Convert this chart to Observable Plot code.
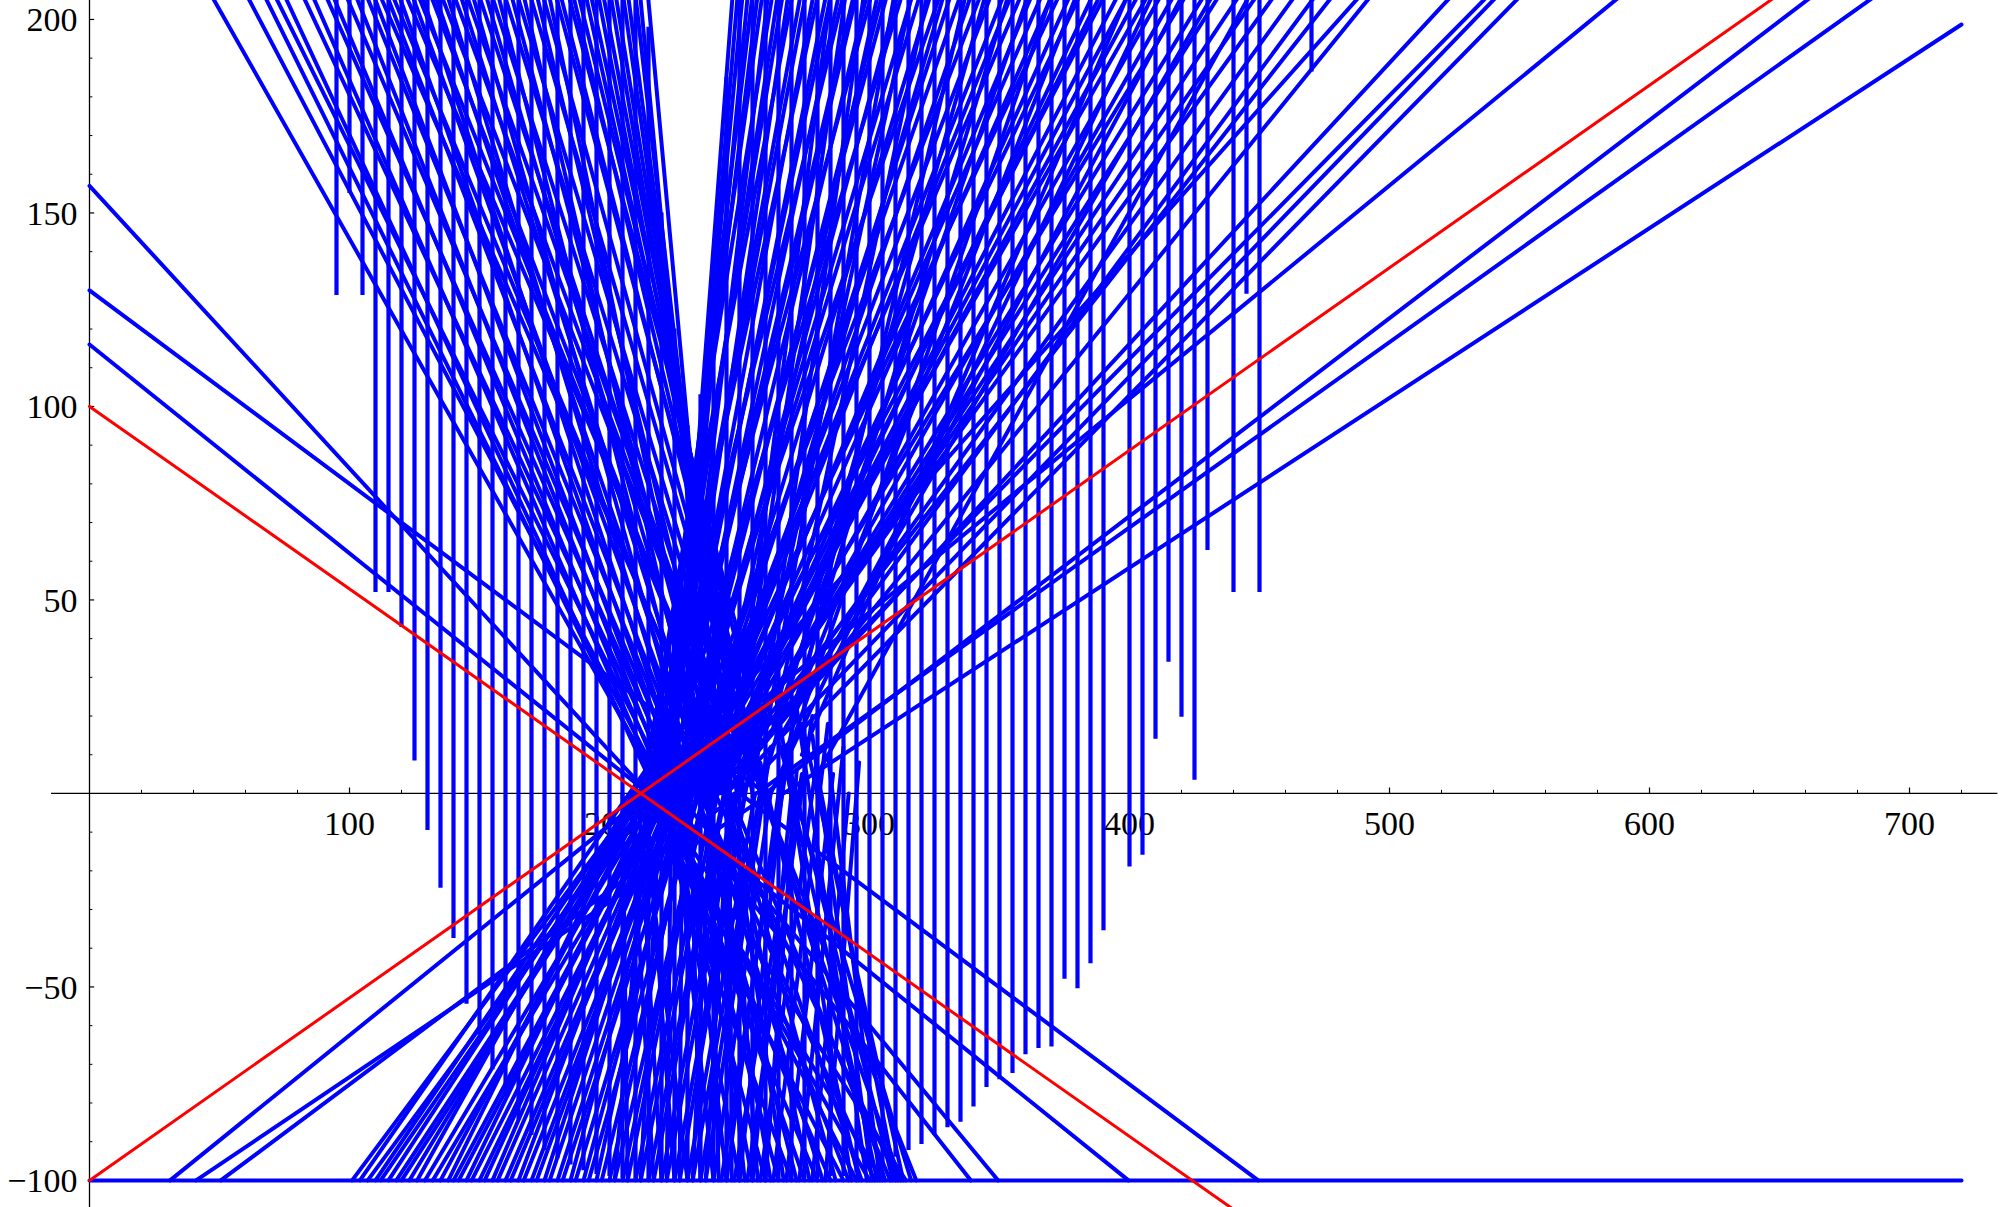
<!DOCTYPE html>
<html><head><meta charset="utf-8">
<script src="https://cdn.jsdelivr.net/npm/d3@7"></script>
<script src="https://cdn.jsdelivr.net/npm/@observablehq/plot@0.6"></script>
<style>html,body{margin:0;padding:0;background:#fff;overflow:hidden}</style>
</head><body><div id="chart"></div>
<script>
// ---- axis ticks & labels ----
const xMajorTicks = [100,200,300,400,500,600,700];
const xTickLabels = ["100","200","300","400","500","600","700"];
const xMinorTicks = [20,40,60,80,120,140,160,180,220,240,260,280,320,340,360,380,420,440,460,480,520,540,560,580,620,640,660,680,720];
const yMajorTicks = [-100,-50,50,100,150,200];
const yTickLabels = ["\u2212100","\u221250","50","100","150","200"];
const yMinorTicks = [-90,-80,-70,-60,-40,-30,-20,-10,10,20,30,40,60,70,80,90,110,120,130,140,160,170,180,190];

// ---- red lines ----
const redDown = [[0,100],[440,-107.5]];
const redUp = [[0,-100],[660,211.3]];

// ---- blue floor ----
const floorLine = [[0,-100],[720,-100]];

// ---- upper family: lines from the left edge [startY at x=0, vertexX, vertexY] ----
const edgeLines = [[157,215,0],[130,260,0],[116,215,0]];

// ---- upper family: left arms from the top [topX, vertexX, vertexY] ----
const upLeftArms = [
 [42,221,0],[56,222,0],[63,219,0],[67,224,0],[71,218,0],[78,226,0],[82,220,0],[87,228,0],[90,222,0],[95,230,0],
 [99,224,0],[103,232,0],[106,226,0],[108,236,15],[111,234,0],[113,238,10],[116,228,0],[118,240,20],[121,236,0],[123,235,25],
 [125,230,0],[128,242,12],[130,238,0],[132,237,30],[135,232,0],[137,244,18],[140,240,0],[142,239,28],[145,234,0],[147,246,10],
 [150,242,0],[152,241,25],[155,236,0],[157,248,15],[160,244,0],[162,243,30],[165,238,0],[167,250,20],[170,246,0],[172,245,35],
 [175,240,0],[177,252,25],[179,260,0],[182,250,40],[184,259,0],[186,252,30],[189,258,0],[191,245,45],[194,255,0],[196,246,35],
 [199,252,0],[201,240,50],[204,249,0],[206,239,45],[209,245,0],[211,233,55],[214,243,0]
];

// ---- upper family: right arms to the top [vertexX, vertexY, topX] ----
const upRightArms = [
 [224,0,248],[226,20,250],[222,0,252],[228,30,254],[218,0,256],[224,25,258],[215,0,260],[230,35,262],[213,0,264],[222,15,266],
 [216,0,268],[232,40,270],[212,0,272],[226,30,275],[218,0,277],[234,45,280],[214,0,282],[228,20,285],[220,0,287],[236,40,290],
 [216,0,292],[230,25,296],[222,0,297],[238,35,301],[218,0,303],[232,15,307],[224,0,309],[240,30,313],[220,0,315],[234,20,319],
 [226,0,322],[242,25,326],[222,0,330],[236,10,334],[228,0,338],[244,20,342],[224,0,346],[238,15,350],[230,0,355],[246,25,358],
 [226,0,362],[240,10,366],[232,0,370],[248,20,374],[228,0,377],[242,5,381],[234,0,385],[250,15,390],[230,0,395],[244,10,400],
 [236,0,404],[252,20,408],[232,0,412],[238,0,417],[246,5,422],[234,0,427],[254,15,434],[240,0,440],[248,10,448],[236,0,455],
 [256,20,462],[242,0,470],[250,5,478],[238,0,485],[215,0,496.5],[244,0,500],[240,0,532],[235,0,546.5],[245,0,550],[250,0,559],
 [215,0,599.6],[260,0,674.3],[256.5,0,699.2],
 [248,10,286],[252,25,292],[256,5,299],[246,30,305],[260,15,311],[250,0,318],[264,20,324],[254,35,331],[268,10,339],[258,0,347],
 [272,25,356],[262,15,364],[266,5,373],[270,20,383],[258,30,393],[274,10,403],[262,0,413],[276,25,425],[266,15,437],[280,5,451]
];
const lastRightArm = [[267,0],[720,198.7]];

// ---- lower family: left arms [floorX, apexX, apexY] ----
const lowLeftArms = [
 [31,215,0],[41,262,0],[50.5,250,0],[101,212,0],[104,218,10],[107,222,5],[110,226,15],[112,214,0],[115,220,8],[118,216,0],
 [120,228,12],[123,213,0],[126,224,18],[129,218,0],[132,230,10],[135,215,0],[138,226,20],[140,220,0],[142,232,15],[145,217,0],
 [147,228,8],[150,222,0],[152,234,20],[155,219,0],[157,230,12],[160,224,0],[162,236,18],[165,221,0],[167,232,10],[170,226,0],
 [172,238,22],[175,223,0],[177,234,15],[180,228,0],[182,240,20],[185,225,0],[187,236,10],[190,230,0],[192,242,18],[195,227,0],
 [197,238,12],[200,232,0],[202,244,20],[205,236,0],[207,240,10],[210,240,0],[212,246,15],[215,244,0],[217,250,20],[220,248,0],
 [222,252,10],[225,252,0],[227,256,15],[230,256,0],[232,260,8],[235,258,0],[237,262,12],[240,262,0],[245,266,5],[250,268,10],
 [255,270,0],[260,272,6],
 [243,270,15],[248,274,5],[253,278,20],[258,280,10],[263,284,18],[268,286,5],[273,290,12],[278,292,0],[283,296,8]
];

// ---- lower family: right arms [apexX, apexY, floorX] ----
const lowRightArms = [
 [215,0,399.6],[226,0,349.5],[250,0,449.5],[222,0,339],[218,0,314],[230,15,311],[214,0,305],[234,20,308],[216,0,300],[228,10,302],
 [219,0,295],[236,18,297],[213,0,290],[226,12,292],[221,0,285],[238,20,287],[217,0,280],[232,8,282],[223,0,275],[240,15,277],
 [215,0,270],[230,10,272],[225,0,265],[242,20,267],[220,0,260],[234,12,262],[227,0,255],[244,18,257],[222,0,250],[236,8,252],
 [229,0,245],[246,15,247],[224,0,240],[238,10,242],[231,0,235],[248,20,237],[212,0,230],[240,12,232],[214,0,225],[228,8,227],
 [211,0,220],[224,10,222],[208,0,217],[220,5,212],[205,0,207],[216,8,202],
 [250,15,318],[256,5,312],[262,20,316],[268,10,309],[274,18,313],[260,0,306],[280,5,310],[266,12,303],[272,22,299],[258,8,296],
 [278,15,301],[264,25,293],[284,10,304]
];

// ---- vertical jumps [x, bottomY, topY] ----
const verticals = [[95,128.7,212],[100,155,212],[105,128.7,212],[110,51.9,212],[115,51.9,212],[120,42.9,212],[125,8.4,212],[130,-9.6,212],[135,-24.5,212],[140,-37.5,212],[145,-54.5,212],[150,-62.5,212],[155,-71.4,212],[160,-78.4,212],[165,-84.4,212],[170,-88.4,212],[175,-92.3,212],[180,-94.4,212],[185,-96,212],[190,-97.5,212],[195,-98.5,212],[200,-99,212],[205,-99.5,212],[210,-100,212],[215,-100,198],[220,-100,150],[225,-100,120],[230,-100,95],[235,-100,103],[240,-100,135],[245,-100,185],[250,-100,212],[255,-100,212],[260,-100,212],[265,-100,212],[270,-100,212],[275,-99.5,212],[280,-99.5,212],[285,-99,212],[290,-99,212],[295,-98,212],[300,-97,212],[305,-95.5,212],[310,-94,212],[315,-92.3,212],[320,-90.7,212],[325,-88.4,212],[330,-86.4,212],[335,-85,212],[340,-81,212],[345,-76,212],[350,-74,212],[355,-72.4,212],[360,-67.5,212],[365,-65.9,212],[370,-65.5,212],[375,-48,212],[380,-50.5,212],[385,-44,212],[390,-35.5,212],[400,-19,212],[405,-16,212],[410,14,212],[415,33.9,212],[420,19.7,212],[425,3.4,212],[430,62.8,212],[440,51.9,212],[445,129,212],[450,51.9,212],[470,186.4,212]];

// ---- build segment table ----
const TOP = 212, FLOOR = -100;
const blue = [];
let id = 0;
function add(pts){ id++; pts.forEach(([x,y]) => blue.push({id, x, y})); }
add(floorLine);
edgeLines.forEach(([y0,vx,vy]) => add([[0,y0],[vx,vy]]));
upLeftArms.forEach(([tx,vx,vy]) => add([[tx,TOP],[vx,vy]]));
upRightArms.forEach(([vx,vy,tx]) => add([[vx,vy],[tx,TOP]]));
add(lastRightArm);
lowLeftArms.forEach(([fx,ax,ay]) => add([[fx,FLOOR],[ax,ay]]));
lowRightArms.forEach(([ax,ay,fx]) => add([[ax,ay],[fx,FLOOR]]));

const red = [];
redDown.forEach(([x,y]) => red.push({id:1,x,y}));
redUp.forEach(([x,y]) => red.push({id:2,x,y}));

const font = "'Liberation Serif','Times New Roman',serif";
const BLUE = "#0000ff", RED = "#ff0000";

const plot = Plot.plot({
  width: 2000, height: 1207, margin: 0,
  x: {domain: [-34.23, 735.0], axis: null},
  y: {domain: [-107.0, 204.9], axis: null},
  style: {background: "white", fontFamily: font},
  marks: [
    Plot.ruleY([0], {x1: -14.6, x2: 734, stroke: "black", strokeWidth: 1.3}),
    Plot.ruleX([0], {y1: -108, y2: 206, stroke: "black", strokeWidth: 1.3}),
    Plot.ruleX(xMajorTicks, {x: d => d, y1: 0, y2: 1.4, stroke: "black", strokeWidth: 1.2}),
    Plot.ruleX(xMinorTicks, {x: d => d, y1: 0, y2: 0.8, stroke: "black", strokeWidth: 1}),
    Plot.ruleY(yMajorTicks, {y: d => d, x1: 0, x2: 2.0, stroke: "black", strokeWidth: 1.2}),
    Plot.ruleY(yMinorTicks, {y: d => d, x1: 0, x2: 1.3, stroke: "black", strokeWidth: 1}),
    Plot.text(xMajorTicks, {x: d => d, y: 0, text: (d,i) => xTickLabels[i], dy: 42, lineAnchor: "bottom", textAnchor: "middle", fontSize: 34, fontFamily: font, fill: "black"}),
    Plot.text(yMajorTicks, {x: 0, y: d => d, text: (d,i) => yTickLabels[i], dx: -12, dy: 12, lineAnchor: "bottom", textAnchor: "end", fontSize: 34, fontFamily: font, fill: "black"}),
    Plot.ruleX(verticals, {x: d => d[0], y1: d => d[1], y2: d => d[2], stroke: BLUE, strokeWidth: 4.2, clip: true}),
    Plot.line(blue, {x: "x", y: "y", z: "id", stroke: BLUE, strokeWidth: 4.0, clip: true}),
    Plot.line(red, {x: "x", y: "y", z: "id", stroke: RED, strokeWidth: 3.0, clip: true})
  ]
});
document.getElementById("chart").append(plot);
</script></body></html>
